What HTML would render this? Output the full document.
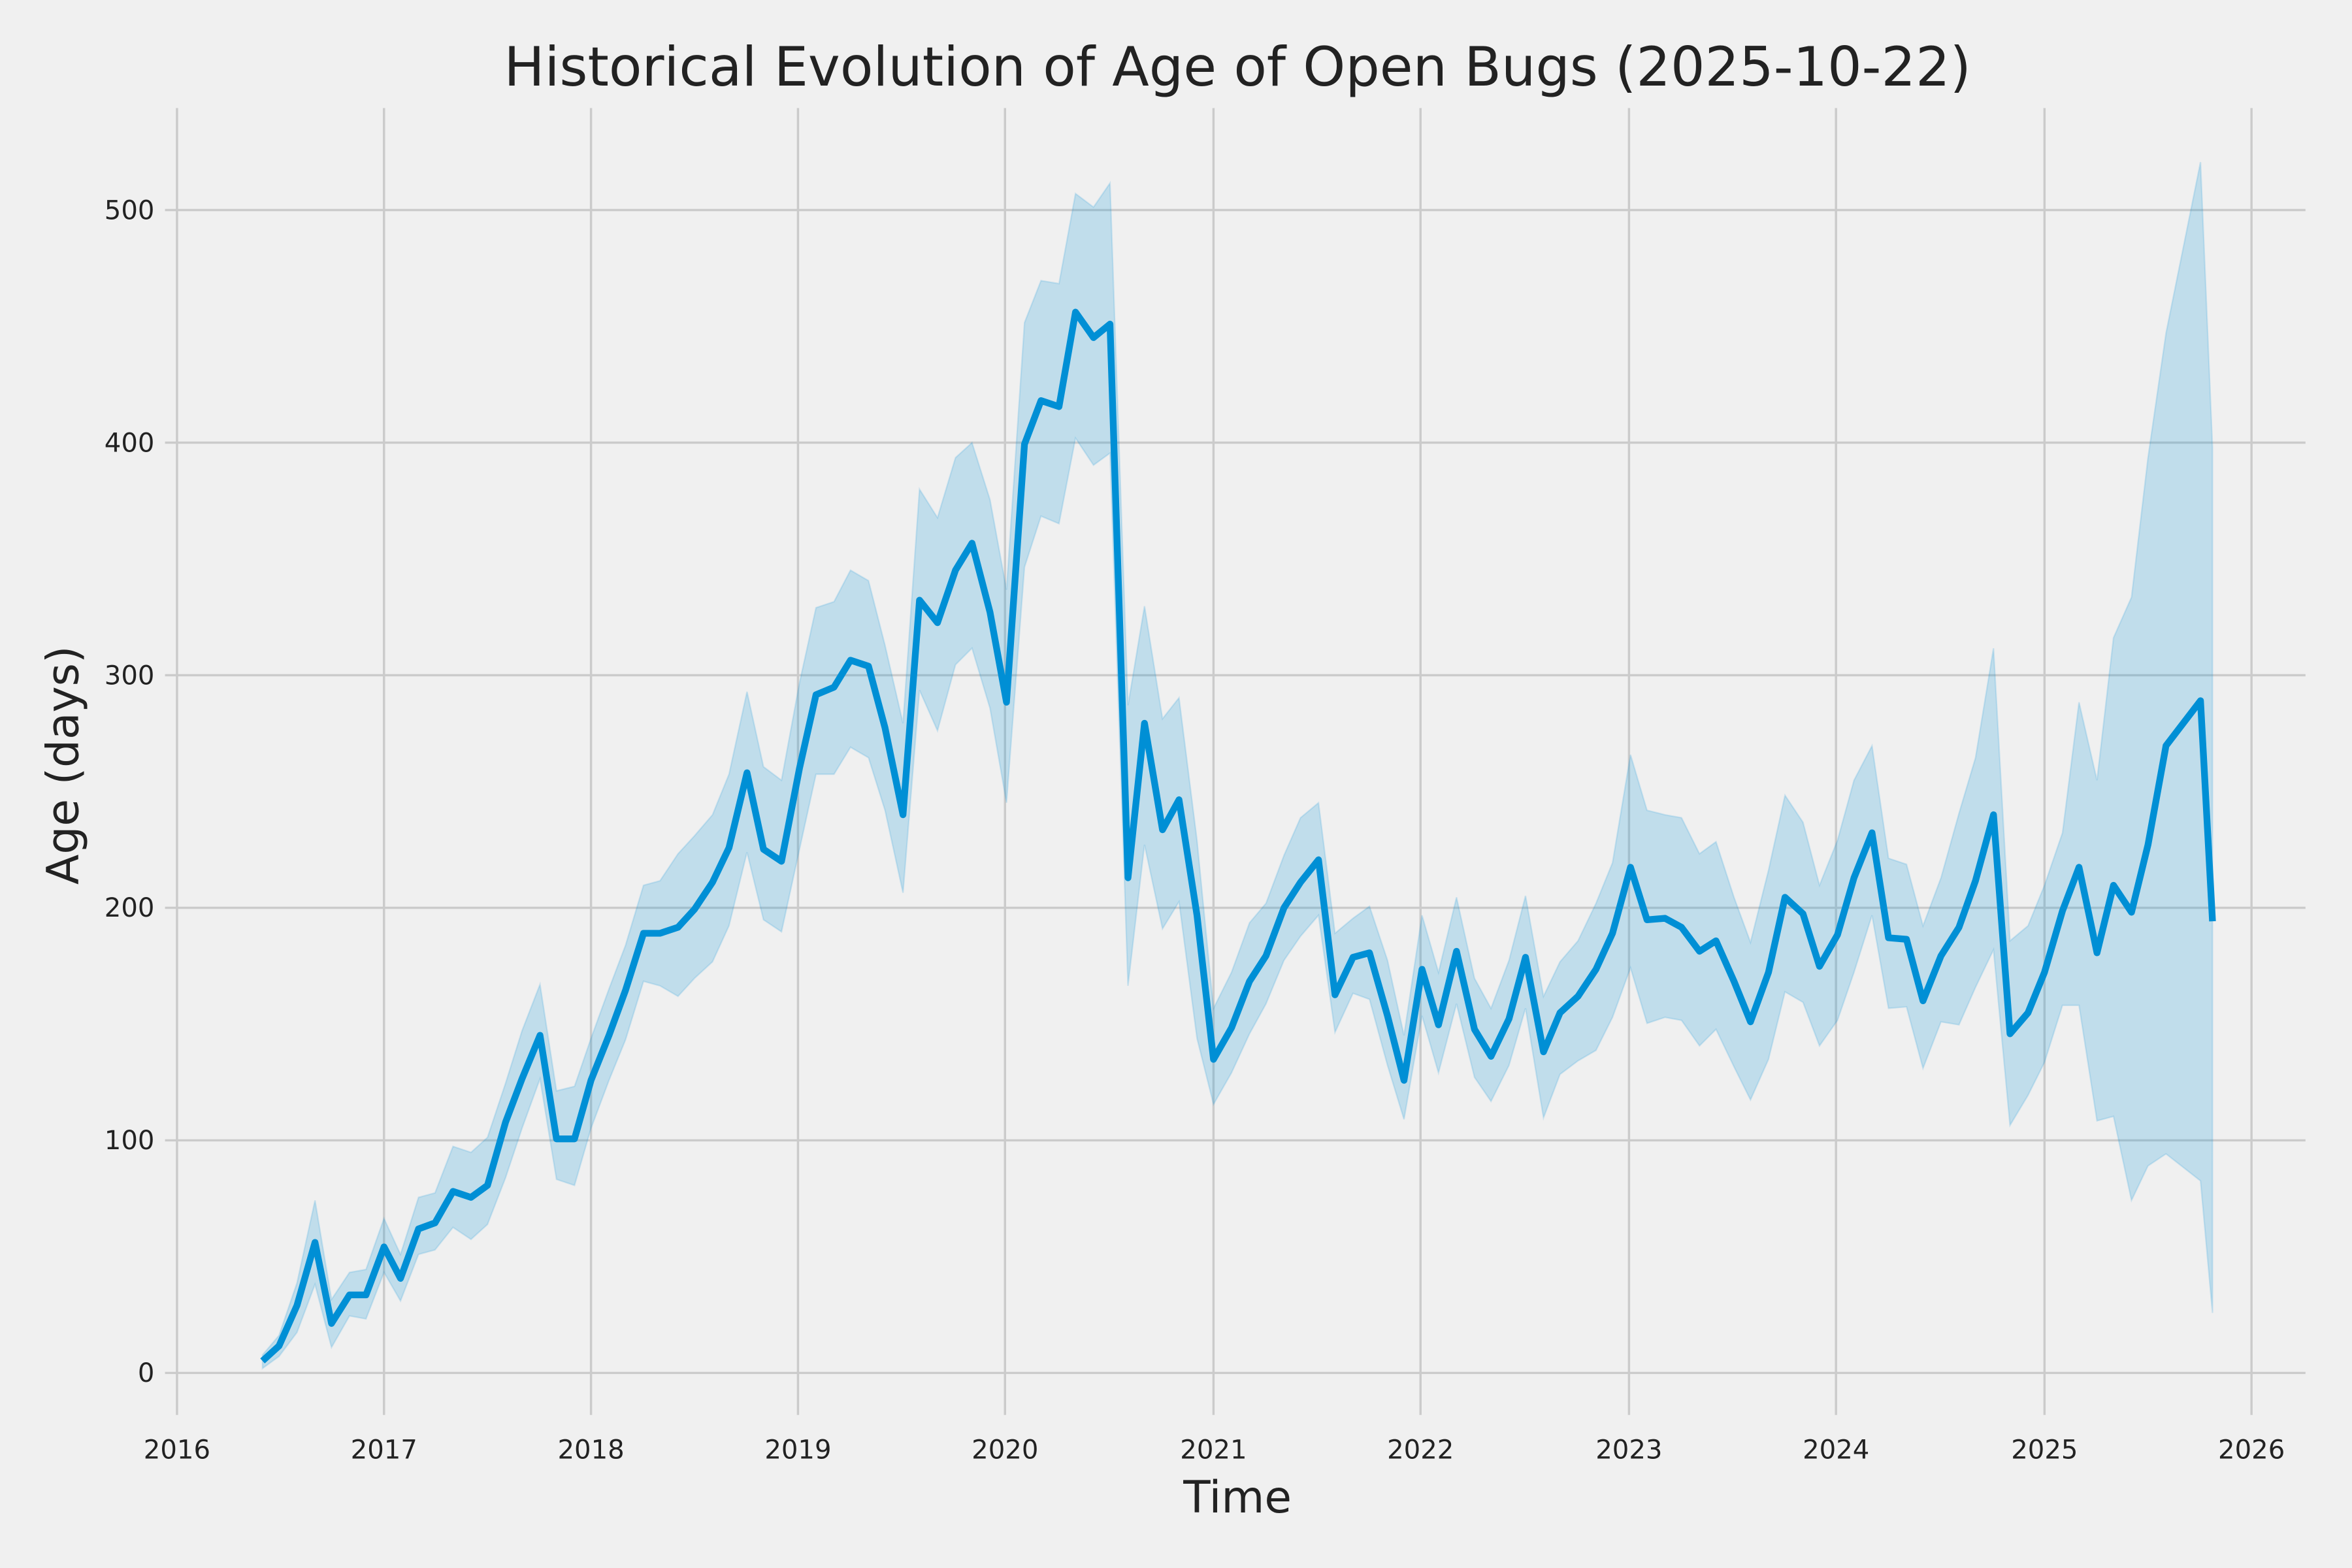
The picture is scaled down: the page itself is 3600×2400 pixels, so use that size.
<!DOCTYPE html>
<html><head><meta charset="utf-8"><style>
html,body{margin:0;padding:0;background:#f0f0f0;}
svg{display:block;}
text{font-family:"DejaVu Sans","Liberation Sans",sans-serif;fill:#222;}
</style></head><body>
<svg width="3600" height="2400" viewBox="0 0 1568 1045" preserveAspectRatio="none" xmlns="http://www.w3.org/2000/svg">
<rect width="1568" height="1045" fill="#f0f0f0"/>
<g stroke="#cbcbcb" stroke-width="1.5">
<line x1="118" y1="72" x2="118" y2="943"/><line x1="256" y1="72" x2="256" y2="943"/><line x1="394" y1="72" x2="394" y2="943"/><line x1="532" y1="72" x2="532" y2="943"/><line x1="670" y1="72" x2="670" y2="943"/><line x1="809" y1="72" x2="809" y2="943"/><line x1="947" y1="72" x2="947" y2="943"/><line x1="1086" y1="72" x2="1086" y2="943"/><line x1="1224" y1="72" x2="1224" y2="943"/><line x1="1363" y1="72" x2="1363" y2="943"/><line x1="1501" y1="72" x2="1501" y2="943"/>
<line x1="110" y1="915" x2="1537" y2="915"/><line x1="110" y1="760" x2="1537" y2="760"/><line x1="110" y1="605" x2="1537" y2="605"/><line x1="110" y1="450" x2="1537" y2="450"/><line x1="110" y1="295" x2="1537" y2="295"/><line x1="110" y1="140" x2="1537" y2="140"/>
</g>
<polygon fill="#008fd5" fill-opacity="0.2" stroke="#008fd5" stroke-opacity="0.15" points="175,903 186,890 198,855 210,800 221,866 233,848 244,846 256,812 267,836 279,798 290,795 302,764 314,768 325,758 337,722 348,687 360,656 371,727 383,724 394,692 406,659 417,630 429,590 440,587 452,569 463,557 475,543 486,516 498,461 509,511 521,520 533,455 544,405 556,401 567,380 579,387 590,430 602,482 613,326 625,345 637,305 648,295 660,333 671,393 683,215 694,187 706,189 717,129 729,138 740,122 752,470 763,404 775,479 786,465 798,560 809,672 821,648 833,615 844,602 856,570 867,545 879,535 890,622 902,612 913,604 925,640 936,690 948,610 959,648 971,598 983,652 994,672 1006,640 1017,597 1029,664 1040,641 1052,627 1064,602 1075,575 1087,503 1098,540 1110,543 1121,545 1133,569 1144,561 1156,598 1167,628 1179,580 1190,530 1202,548 1213,590 1225,560 1236,520 1248,497 1259,572 1271,576 1282,617 1294,585 1306,542 1317,505 1329,432 1340,627 1352,617 1363,590 1375,555 1386,468 1398,520 1409,425 1421,398 1432,305 1444,222 1467,108 1475,298 1475,875 1467,787 1444,769 1432,777 1421,800 1409,744 1398,747 1386,670 1375,670 1363,708 1352,730 1340,750 1329,633 1317,658 1306,683 1294,681 1282,712 1271,671 1259,672 1248,610 1236,648 1225,680 1213,697 1202,668 1190,661 1179,706 1167,733 1156,711 1144,686 1133,697 1121,680 1110,678 1098,682 1087,645 1075,678 1064,700 1052,707 1040,716 1029,745 1017,672 1006,710 994,734 983,718 971,669 959,715 948,677 936,746 925,710 913,666 902,662 890,688 879,610 867,624 856,640 844,669 833,689 821,715 809,736 798,692 786,601 775,619 763,563 752,657 740,302 729,310 717,292 706,349 694,344 683,378 671,535 660,472 648,432 637,443 625,487 613,460 602,595 590,540 579,505 567,498 556,516 544,516 533,566 521,621 509,613 498,568 486,617 475,641 463,652 452,664 440,657 429,654 417,693 406,720 394,752 383,790 371,786 360,719 348,752 337,785 325,816 314,826 302,818 290,833 279,836 267,867 256,848 244,879 233,877 221,898 210,856 198,888 186,904 175,912"/>
<polyline fill="none" stroke="#008fd5" stroke-width="4.5" stroke-linejoin="round" points="175,907 186,897 198,870 210,828 221,882 233,863 244,863 256,831 267,852 279,819 290,815 302,794 314,798 325,790 337,748 348,719 360,690 371,759 383,759 394,720 406,690 417,660 429,622 440,622 452,618 463,606 475,588 486,565 498,515 509,566 521,574 533,512 544,463 556,458 567,440 579,444 590,485 602,543 613,400 625,415 637,380 648,362 660,408 671,468 683,296 694,267 706,271 717,208 729,225 740,216 752,585 763,482 775,553 786,533 798,610 809,706 821,685 833,654 844,637 856,605 867,588 879,573 890,663 902,638 913,635 925,677 936,720 948,646 959,683 971,634 983,686 994,704 1006,679 1017,638 1029,701 1040,675 1052,664 1064,646 1075,622 1087,578 1098,613 1110,612 1121,618 1133,634 1144,627 1156,654 1167,681 1179,648 1190,598 1202,609 1213,644 1225,623 1236,585 1248,555 1259,625 1271,626 1282,667 1294,637 1306,618 1317,587 1329,543 1340,689 1352,675 1363,648 1375,607 1386,578 1398,635 1409,590 1421,608 1432,563 1444,497 1467,467 1475,614"/>
<g font-size="17.5" text-anchor="middle">
<text x="118" y="972">2016</text><text x="256" y="972">2017</text><text x="394" y="972">2018</text><text x="532" y="972">2019</text><text x="670" y="972">2020</text><text x="809" y="972">2021</text><text x="947" y="972">2022</text><text x="1086" y="972">2023</text><text x="1224" y="972">2024</text><text x="1363" y="972">2025</text><text x="1501" y="972">2026</text>
</g>
<g font-size="17.5" text-anchor="end">
<text x="103" y="921">0</text><text x="103" y="766">100</text><text x="103" y="611">200</text><text x="103" y="456">300</text><text x="103" y="301">400</text><text x="103" y="146">500</text>
</g>
<text x="825" y="1008" font-size="29.5" text-anchor="middle">Time</text>
<text transform="translate(52,510) rotate(-90)" font-size="29.5" text-anchor="middle">Age (days)</text>
<text x="825" y="57" font-size="36" text-anchor="middle">Historical Evolution of Age of Open Bugs (2025-10-22)</text>
</svg>
</body></html>
